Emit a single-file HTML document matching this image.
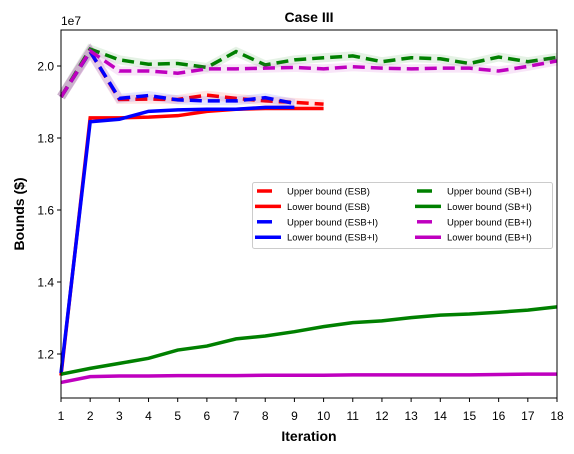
<!DOCTYPE html>
<html><head><meta charset="utf-8"><style>
body{margin:0;background:#fff}
svg{font-family:"Liberation Sans",Arial,sans-serif;display:block}
</style></head><body>
<svg id="chart" width="574" height="454" viewBox="0 0 574 454">
<rect width="574" height="454" fill="#fff"/>
<text x="309" y="22" text-anchor="middle" font-size="14" font-weight="bold">Case III</text>
<text x="61" y="25" font-size="12">1e7</text>
<g id="series"></g>
<rect x="61" y="30" width="496" height="368" fill="none" stroke="#000" stroke-width="1"/>
<g id="axes"></g>
<text x="309" y="441" text-anchor="middle" font-size="14" font-weight="bold">Iteration</text>
<text transform="translate(24,214) rotate(-90)" text-anchor="middle" font-size="14" font-weight="bold">Bounds ($)</text>
<g id="legend"></g>
</svg>
<script>
const xTicks=[1,2,3,4,5,6,7,8,9,10,11,12,13,14,15,16,17,18];
const yTicks=[1.2,1.4,1.6,1.8,2.0];
const yTickLabels=["1.2","1.4","1.6","1.8","2.0"];
const upperESB=[1.914,2.04,1.907,1.908,1.907,1.919,1.91,1.903,1.899,1.894];
const lowerESB=[1.14,1.856,1.856,1.858,1.862,1.874,1.88,1.882,1.882,1.882];
const upperESBI=[1.914,2.04,1.91,1.918,1.906,1.903,1.903,1.912,1.896];
const lowerESBI=[1.147,1.845,1.852,1.874,1.878,1.88,1.88,1.885,1.885];
const upperSBI=[1.914,2.047,2.017,2.005,2.007,1.996,2.04,2.003,2.017,2.023,2.028,2.012,2.023,2.02,2.007,2.025,2.012,2.024];
const lowerSBI=[1.144,1.16,1.174,1.188,1.211,1.222,1.242,1.25,1.262,1.276,1.287,1.292,1.301,1.308,1.311,1.316,1.322,1.331];
const upperEBI=[1.914,2.042,1.986,1.986,1.98,1.992,1.992,1.994,1.996,1.992,1.998,1.994,1.992,1.994,1.994,1.986,1.999,2.014];
const lowerEBI=[1.121,1.137,1.139,1.139,1.14,1.14,1.14,1.141,1.141,1.141,1.142,1.142,1.142,1.142,1.142,1.143,1.144,1.144];
const X=v=>61+(v-1)*496/17;
const Y=v=>66+(2.0-v)*360;
const NS="http://www.w3.org/2000/svg";
function mk(tag,attrs,parent){const e=document.createElementNS(NS,tag);for(const k in attrs)e.setAttribute(k,attrs[k]);parent.appendChild(e);return e;}
const axes=document.getElementById('axes');
xTicks.forEach(t=>{
 const l=mk('line',{x1:X(t),x2:X(t),y1:398,y2:402,stroke:'#000'},axes);
 
 
 const tx=mk('text',{x:X(t),y:420,'text-anchor':'middle','font-size':'12'},axes);tx.textContent=t;
 
 
});
yTicks.forEach((t,i)=>{
 const l=mk('line',{x1:57,x2:61,y1:Y(t),y2:Y(t),stroke:'#000'},axes);
 
 
 const tx=mk('text',{x:54,y:Y(t)+4.5,'text-anchor':'end','font-size':'12'},axes);tx.textContent=yTickLabels[i];
 
 
});
const series=[
 {d:upperESB,c:'#ff0000',dash:true,n:'upper-esb-line'},
 {d:lowerESB,c:'#ff0000',dash:false,n:'lower-esb-line'},
 {d:upperESBI,c:'#0000ff',dash:true,n:'upper-esbi-line'},
 {d:lowerESBI,c:'#0000ff',dash:false,n:'lower-esbi-line'},
 {d:upperSBI,c:'#008000',dash:true,n:'upper-sbi-line'},
 {d:lowerSBI,c:'#008000',dash:false,n:'lower-sbi-line'},
 {d:upperEBI,c:'#bf00bf',dash:true,n:'upper-ebi-line'},
 {d:lowerEBI,c:'#bf00bf',dash:false,n:'lower-ebi-line'}
];
const sg=document.getElementById('series');
series.forEach(s=>{
 const pts=s.d.map((v,i)=>X(i+1)+','+Y(v)).join(' ');
 if(s.dash){const h=mk('polyline',{points:pts,fill:'none',stroke:s.c,'stroke-opacity':0.1,'stroke-width':9},sg);
  
  }
 const p=mk('polyline',{points:pts,fill:'none',stroke:s.c,'stroke-width':3.5,'stroke-dasharray':s.dash?'12,6':'none'},sg);
 
 
});
const lg=document.getElementById('legend');
const box=mk('rect',{x:252.5,y:182.5,width:300,height:66,rx:2,fill:'#fff','fill-opacity':0.8,stroke:'#ccc'},lg);


const entries=[
 ['Upper bound (ESB)','#ff0000',true,0,0],['Lower bound (ESB)','#ff0000',false,0,1],
 ['Upper bound (ESB+I)','#0000ff',true,0,2],['Lower bound (ESB+I)','#0000ff',false,0,3],
 ['Upper bound (SB+I)','#008000',true,1,0],['Lower bound (SB+I)','#008000',false,1,1],
 ['Upper bound (EB+I)','#bf00bf',true,1,2],['Lower bound (EB+I)','#bf00bf',false,1,3]];
entries.forEach(e=>{
 const x0=e[3]?415:255, y=191+e[4]*15.4;
 const l=mk('line',{x1:e[2]?x0+2:x0,x2:e[2]?x0+17:x0+26,y1:y,y2:y,stroke:e[1],'stroke-width':3.5},lg);
 
 
 const t=mk('text',{x:x0+32,y:y+3.5,'font-size':'9.5'},lg);t.textContent=e[0];
 
 
});
</script>
</body></html>
